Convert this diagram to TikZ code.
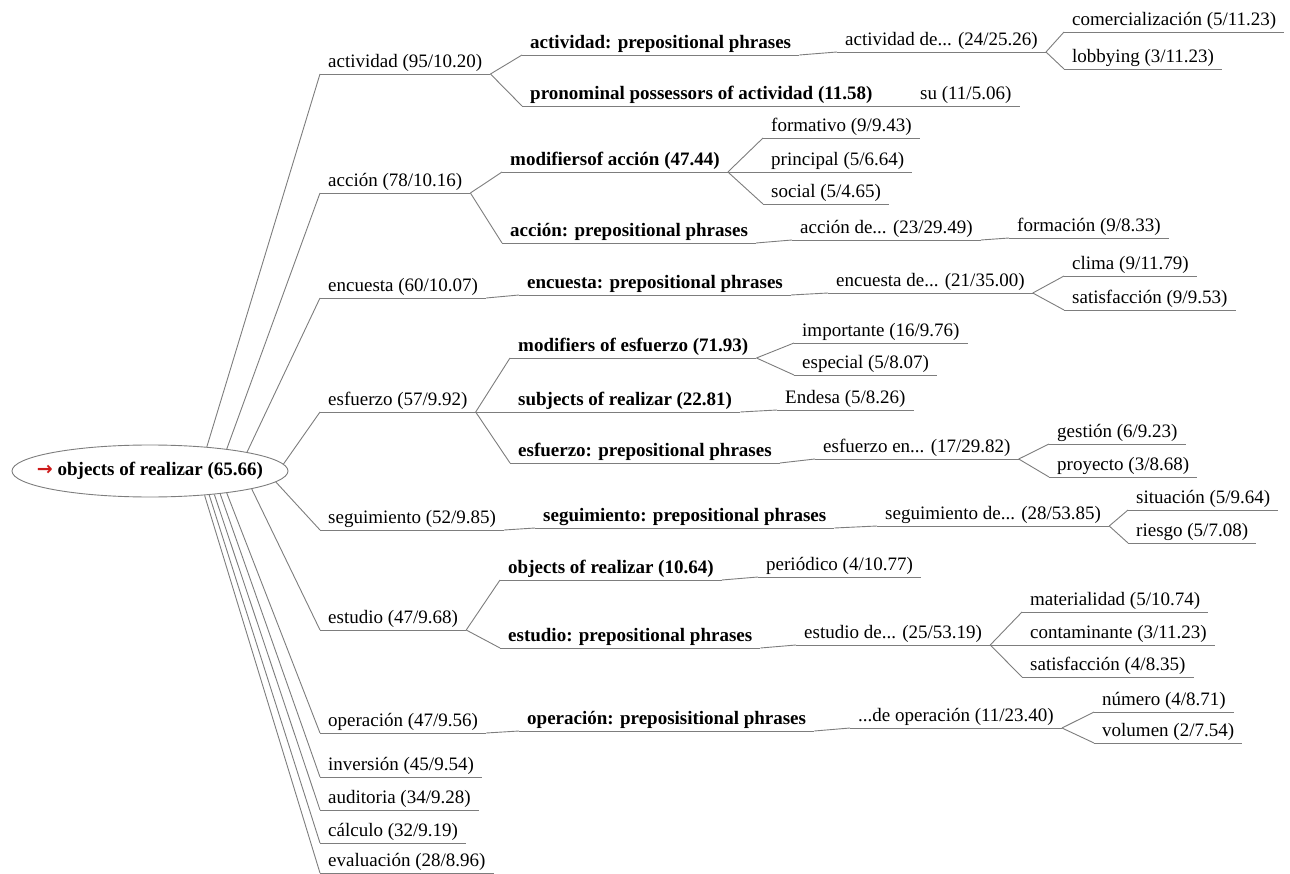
\documentclass[tikz,border=0pt]{standalone}
\usepackage{fontspec}
\setmainfont{LiberationSerif}[Extension=.ttf, UprightFont=*-Regular, BoldFont=*-Bold]
\newfontfamily\arrowfont{DejaVu Sans}
\usetikzlibrary{shapes.geometric}
\definecolor{linegray}{RGB}{125,125,125}
\definecolor{arrowred}{RGB}{205,25,25}
\tikzset{
  word/.style={anchor=south west, inner xsep=8pt, inner ysep=2pt,
    font=\fontsize{19}{22}\selectfont,
    append after command={(\tikzlastnode.south west) edge[link] (\tikzlastnode.south east)}},
  rel/.style={word, font=\fontsize{19}{22}\selectfont\bfseries},
  link/.style={draw=linegray, line width=0.9pt},
  rootnode/.style={ellipse, draw=linegray, line width=0.9pt, minimum width=276pt, minimum height=52pt, inner sep=0pt}
}
\begin{document}
\begin{tikzpicture}[x=1pt,y=-1pt]
  \useasboundingbox (0,0) rectangle (1290,874);
  % root
  \node[rootnode] (root) at (150,471) {};
  \node[font=\fontsize{19}{22}\selectfont\bfseries] (roottxt) at (root.center) {{\arrowfont\bfseries\color{arrowred}→} objects of realizar (65.66)};
  % first level, hung on the ellipse
  \foreach \n/\y/\a/\t in {act/74/23/{actividad (95/10.20)}, acc/193/16/{acción (78/10.16)},
      enc/298/11/{encuesta (60/10.07)}, esf/412/3/{esfuerzo (57/9.92)}, seg/530/-5/{seguimiento (52/9.85)},
      est/630/-10/{estudio (47/9.68)}, ope/733/-16/{operación (47/9.56)}, inv/777/-18/{inversión (45/9.54)},
      aud/810/-20/{auditoria (34/9.28)}, cal/843/-22/{cálculo (32/9.19)}, eva/873/-24/{evaluación (28/8.96)}} {
    \node[word] (\n) at (320,\y) {\t};
    \draw[link] (root.\a) -- (\n.south west);
  }
  % second level
  \node[rel] (actpp) at (522,55) {actividad: prepositional phrases};
  \node[rel] (pron) at (522,106) {pronominal possessors of actividad (11.58)};
  \node[rel] (modacc) at (502,172) {modifiersof acción (47.44)};
  \node[rel] (accpp) at (502,243) {acción: prepositional phrases};
  \node[rel] (encpp) at (519,295) {encuesta: prepositional phrases};
  \node[rel] (modesf) at (510,358) {modifiers of esfuerzo (71.93)};
  \node[rel] (subj) at (510,412) {subjects of realizar (22.81)};
  \node[rel] (esfpp) at (510,463) {esfuerzo: prepositional phrases};
  \node[rel] (segpp) at (535,528) {seguimiento: prepositional phrases};
  \node[rel] (obj) at (500,580) {objects of realizar (10.64)};
  \node[rel] (estpp) at (500,648) {estudio: prepositional phrases};
  \node[rel] (opepp) at (519,731) {operación: preposisitional phrases};
  % third level
  \node[word] (actde) at (837,52) {actividad de... (24/25.26)};
  \node[word] (su) at (912,106) {su (11/5.06)};
  \node[word] (formt) at (763,138) {formativo (9/9.43)};
  \node[word] (princ) at (763,172) {principal (5/6.64)};
  \node[word] (soc) at (763,204) {social (5/4.65)};
  \node[word] (accde) at (792,240) {acción de... (23/29.49)};
  \node[word] (encde) at (828,293) {encuesta de... (21/35.00)};
  \node[word] (impo) at (794,343) {importante (16/9.76)};
  \node[word] (espe) at (794,375) {especial (5/8.07)};
  \node[word] (ende) at (777,410) {Endesa (5/8.26)};
  \node[word] (esfen) at (815,459) {esfuerzo en... (17/29.82)};
  \node[word] (segde) at (877,526) {seguimiento de... (28/53.85)};
  \node[word] (peri) at (758,577) {periódico (4/10.77)};
  \node[word] (estde) at (796,645) {estudio de... (25/53.19)};
  \node[word] (opede) at (850,728) {...de operación (11/23.40)};
  % fourth level
  \node[word] (comer) at (1064,32) {comercialización (5/11.23)};
  \node[word] (lobb) at (1064,69) {lobbying (3/11.23)};
  \node[word] (forma) at (1009,238) {formación (9/8.33)};
  \node[word] (clim) at (1064,276) {clima (9/11.79)};
  \node[word] (sati) at (1064,310) {satisfacción (9/9.53)};
  \node[word] (gest) at (1049,444) {gestión (6/9.23)};
  \node[word] (proy) at (1049,477) {proyecto (3/8.68)};
  \node[word] (situ) at (1128,510) {situación (5/9.64)};
  \node[word] (ries) at (1128,543) {riesgo (5/7.08)};
  \node[word] (mate) at (1022,612) {materialidad (5/10.74)};
  \node[word] (cont) at (1022,645) {contaminante (3/11.23)};
  \node[word] (satis) at (1022,677) {satisfacción (4/8.35)};
  \node[word] (nume) at (1094,712) {número (4/8.71)};
  \node[word] (volu) at (1094,743) {volumen (2/7.54)};
  % branches
  \foreach \a/\b in {act/actpp, act/pron, acc/modacc, acc/accpp, enc/encpp, esf/modesf, esf/subj,
      esf/esfpp, seg/segpp, est/obj, est/estpp, ope/opepp,
      actpp/actde, pron/su, modacc/formt, modacc/princ, modacc/soc, accpp/accde, encpp/encde,
      modesf/impo, modesf/espe, subj/ende, esfpp/esfen, segpp/segde, obj/peri, estpp/estde, opepp/opede,
      actde/comer, actde/lobb, accde/forma, encde/clim, encde/sati, esfen/gest, esfen/proy,
      segde/situ, segde/ries, estde/mate, estde/cont, estde/satis, opede/nume, opede/volu}
    \draw[link] (\a.south east) -- (\b.south west);
\end{tikzpicture}
\end{document}
